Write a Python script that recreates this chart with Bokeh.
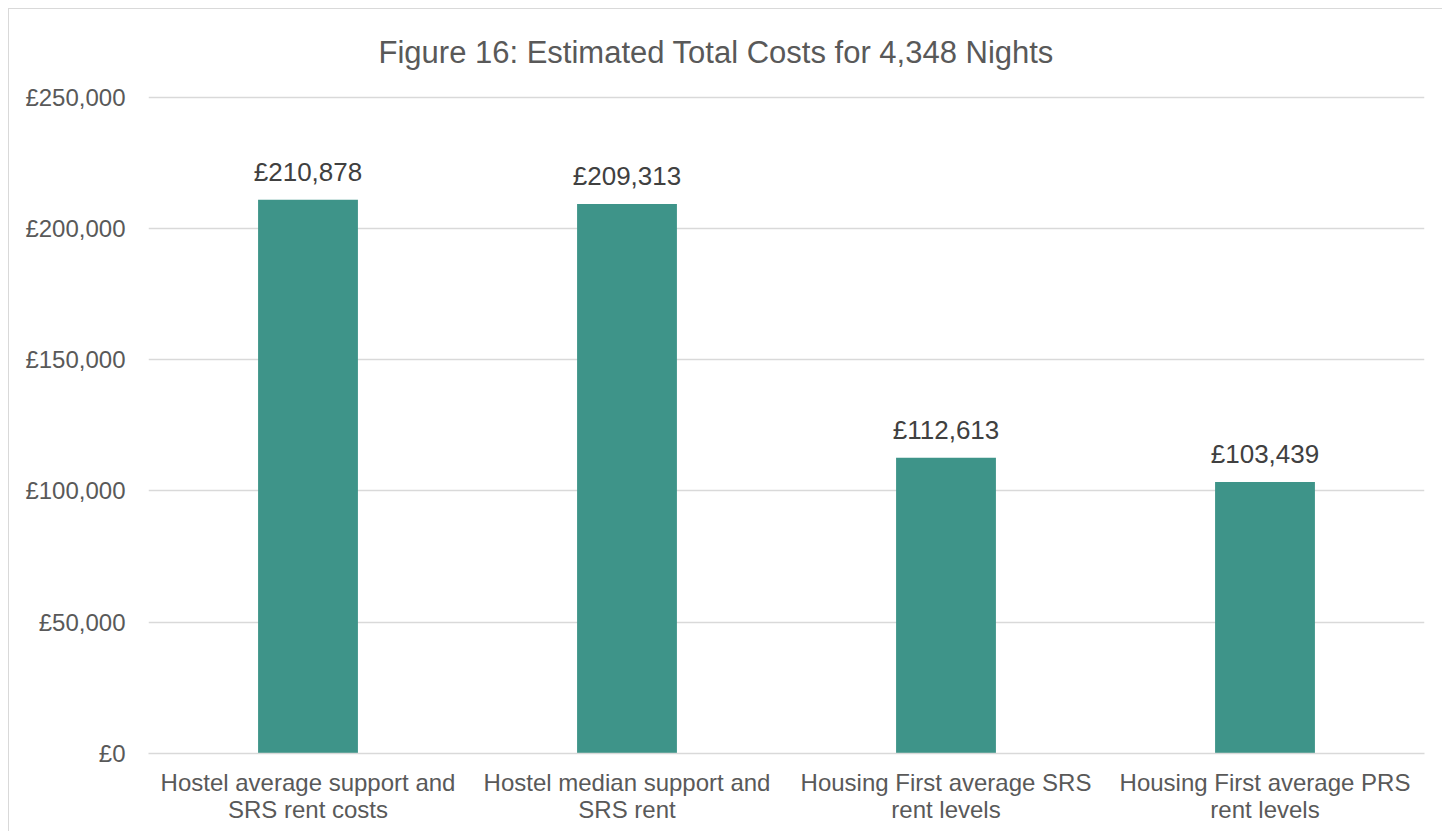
from bokeh.plotting import figure
from bokeh.models import Range1d, FixedTicker, ColumnDataSource, Title
from bokeh.core.properties import value
from bokeh.embed import file_html
from bokeh.resources import INLINE

categories = [
    "Hostel average support and\nSRS rent costs",
    "Hostel median support and\nSRS rent",
    "Housing First average SRS\nrent levels",
    "Housing First average PRS\nrent levels",
]
costs = [210878, 209313, 112613, 103439]
cost_labels = ["£210,878", "£209,313", "£112,613", "£103,439"]
y_ticks = [0, 50000, 100000, 150000, 200000, 250000]
y_tick_labels = ["£0", "£50,000", "£100,000", "£150,000", "£200,000", "£250,000"]
title_text = "Figure 16: Estimated Total Costs for 4,348 Nights"

FONT = "Liberation Sans"
BAR = "#3E9489"
GRID = "#D9D9D9"
TXT = "#595959"

src = ColumnDataSource(dict(cat=categories, val=costs, lab=cost_labels))

p = figure(
    x_range=categories,
    y_range=Range1d(0, 250600),
    width=1434, height=823,
    output_backend="svg", toolbar_location=None,
    min_border_left=139, min_border_right=19, min_border_top=86, min_border_bottom=79,
)
p.styles = {"margin-left": "8px", "margin-top": "8px",
            "border-left": "1px solid #D9D9D9", "border-top": "1px solid #D9D9D9"}
p.x_range.range_padding = 0

p.title = Title(text=title_text, align="left", offset=230, vertical_align="top",
                text_font=FONT, text_font_size="31px", text_color=TXT,
                text_font_style="normal", standoff=48)

p.vbar(x="cat", top="val", width=0.313, source=src, fill_color=BAR, line_color=None)
p.text(x="cat", y="val", text="lab", source=src, text_align="center",
       text_baseline="bottom", y_offset=-13, text_font=value(FONT),
       text_font_size="26px", text_color="#404040")

p.outline_line_color = None
p.xgrid.grid_line_color = None
p.ygrid.grid_line_color = GRID
p.ygrid.grid_line_width = 1.5
p.ygrid.ticker = FixedTicker(ticks=y_ticks)

p.yaxis.ticker = FixedTicker(ticks=y_ticks)
p.yaxis.major_label_overrides = {v: s for v, s in zip(y_ticks, y_tick_labels)}
p.yaxis.axis_line_color = None
p.yaxis.major_tick_line_color = None
p.yaxis.minor_tick_line_color = None
p.yaxis.major_label_standoff = 17
p.yaxis.major_label_text_font = FONT
p.yaxis.major_label_text_font_size = "24px"
p.yaxis.major_label_text_color = TXT

p.xaxis.axis_line_color = GRID
p.xaxis.axis_line_width = 1.5
p.xaxis.major_tick_line_color = None
p.xaxis.minor_tick_line_color = None
p.xaxis.major_label_standoff = 9
p.xaxis.major_label_text_font = FONT
p.xaxis.major_label_text_font_size = "24px"
p.xaxis.major_label_text_color = TXT
p.xaxis.major_label_text_line_height = 1.0

open("out.html", "w").write(file_html(p, INLINE))
